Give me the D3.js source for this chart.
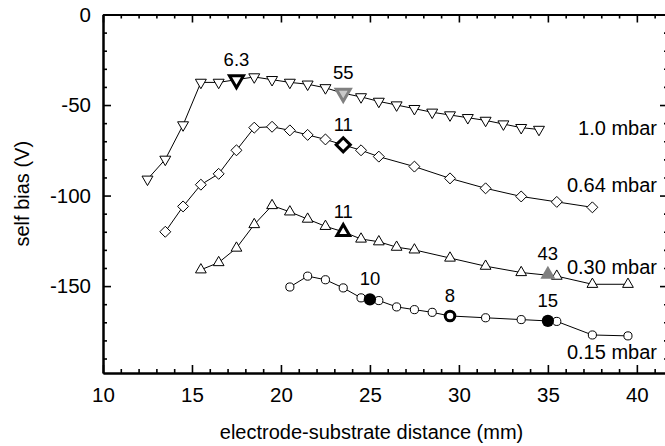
<!DOCTYPE html>
<html>
<head>
<meta charset="utf-8">
<script src="https://cdn.jsdelivr.net/npm/d3@7"></script>
<style>
  html, body { margin: 0; padding: 0; background: #fff; }
  svg { display: block; font-family: Arial, "Liberation Sans", Helvetica, sans-serif; }
</style>
</head>
<body>
<script>
// ---- data ---------------------------------------------------------------
// self bias (V) versus electrode-substrate distance (mm) at four pressures
const dist100 = [12.5, 13.5, 14.5, 15.5, 16.5, 17.5, 18.5, 19.5, 20.5, 21.5, 22.5, 23.5,
                 24.5, 25.5, 26.5, 27.5, 28.5, 29.5, 30.5, 31.5, 32.5, 33.5, 34.5];
const bias100 = [-91, -80, -61, -37.5, -37.5, -36, -34.5, -36, -37.5, -38.5, -40.5, -43.5,
                 -45.5, -48, -50, -52, -54, -55.5, -57, -58.5, -60.5, -62.5, -63.5];

const dist064 = [13.5, 14.5, 15.5, 16.5, 17.5, 18.5, 19.5, 20.5, 21.5, 22.5, 23.5, 24.5,
                 25.5, 27.5, 29.5, 31.5, 33.5, 35.5, 37.5];
const bias064 = [-120, -106, -94, -88, -75, -62.5, -62, -64, -66.5, -69, -72, -75,
                 -78.5, -84, -90.5, -96, -100.5, -103.5, -106.5];

const dist030 = [15.5, 16.5, 17.5, 18.5, 19.5, 20.5, 21.5, 22.5, 23.5, 24.5, 25.5, 26.5,
                 27.5, 29.5, 31.5, 33.5, 35.5, 37.5, 39.5];
const bias030 = [-141, -137, -129, -116, -105.5, -109, -113, -117, -120, -124, -125.5, -128.5,
                 -130, -134.5, -139, -142.5, -144.5, -149, -149];

const dist015 = [20.5, 21.5, 22.5, 23.5, 24.5, 25.5, 26.5, 27.5, 28.5, 29.5,
                 31.5, 33.5, 35.5, 37.5, 39.5];
const bias015 = [-150.5, -144.5, -146.5, -151, -156.5, -158, -161.5, -163, -164.5, -166.5,
                 -167.5, -168.5, -169.5, -177, -177.5];

const seriesNames = ["1.0 mbar", "0.64 mbar", "0.30 mbar", "0.15 mbar"];

// highlighted measurements with their annotation values
const markDist  = [17.5, 23.5, 23.5, 23.5, 35, 25, 29.5, 35];
const markBias  = [-36, -43.5, -72, -120, -143.5, -157.3, -166.5, -169.2];
const markText  = ["6.3", "55", "11", "11", "43", "10", "8", "15"];
const markKind  = ["downBold", "downGray", "diamondBold", "upBold", "upGray", "dotFilled", "dotBold", "dotFilled"];

// axis ticks
const xMajor = [10, 15, 20, 25, 30, 35, 40];
const yMajor = [0, -50, -100, -150];
const xTickLabels = ["10", "15", "20", "25", "30", "35", "40"];
const yTickLabels = ["0", "-50", "-100", "-150"];

// ---- layout -------------------------------------------------------------
const W = 665, H = 446;
const x = d3.scaleLinear().domain([10, 41.75]).range([103, 668]);
const y = d3.scaleLinear().domain([-198, 0]).range([373, 14.5]);

const svg = d3.select("body").append("svg").attr("width", W).attr("height", H);

const xMinor = d3.range(10, 42, 1).filter(v => !xMajor.includes(v));
const yMinor = d3.range(0, -200, -10).filter(v => !yMajor.includes(v));

const frameBottom = y.range()[0], frameTop = y.range()[1];
const frameLeft = x.range()[0], frameRight = x.range()[1];

function styleAxis(g) {
  g.select(".domain").attr("stroke", "#000").attr("stroke-width", 2);
  g.selectAll(".tick line").attr("stroke", "#000").attr("stroke-width", 1.6);
  g.selectAll(".tick text").attr("fill", "#000").attr("font-size", 20.5);
}

// minor ticks first (no labels), then majors with labels
svg.append("g").attr("transform", `translate(0,${frameBottom})`)
  .call(d3.axisBottom(x).tickValues(xMinor).tickSizeInner(-4).tickSizeOuter(0).tickFormat(""))
  .call(styleAxis);
svg.append("g").attr("transform", `translate(0,${frameBottom})`)
  .call(d3.axisBottom(x).tickValues(xMajor).tickSizeInner(-8).tickSizeOuter(0)
    .tickPadding(14).tickFormat((d, i) => xTickLabels[i]))
  .call(styleAxis);

svg.append("g").attr("transform", `translate(0,${frameTop})`)
  .call(d3.axisTop(x).tickValues(xMinor).tickSizeInner(-4).tickSizeOuter(0).tickFormat(""))
  .call(styleAxis);
svg.append("g").attr("transform", `translate(0,${frameTop})`)
  .call(d3.axisTop(x).tickValues(xMajor).tickSizeInner(-8).tickSizeOuter(0).tickFormat(""))
  .call(styleAxis);

svg.append("g").attr("transform", `translate(${frameLeft},0)`)
  .call(d3.axisLeft(y).tickValues(yMinor).tickSizeInner(-4).tickSizeOuter(0).tickFormat(""))
  .call(styleAxis);
svg.append("g").attr("transform", `translate(${frameLeft},0)`)
  .call(d3.axisLeft(y).tickValues(yMajor).tickSizeInner(-8).tickSizeOuter(0)
    .tickPadding(12).tickFormat((d, i) => yTickLabels[i]))
  .call(styleAxis);

svg.append("g").attr("transform", `translate(${frameRight},0)`)
  .call(d3.axisRight(y).tickValues(yMinor).tickSizeInner(-4).tickSizeOuter(0).tickFormat(""))
  .call(styleAxis);
svg.append("g").attr("transform", `translate(${frameRight},0)`)
  .call(d3.axisRight(y).tickValues(yMajor).tickSizeInner(-8).tickSizeOuter(0).tickFormat(""))
  .call(styleAxis);

// axis titles
svg.append("text")
  .attr("x", (frameLeft + 640) / 2).attr("y", 439)
  .attr("text-anchor", "middle").attr("font-size", 20)
  .text("electrode-substrate distance (mm)");
svg.append("text")
  .attr("transform", `translate(29,${(frameTop + frameBottom) / 2}) rotate(-90)`)
  .attr("text-anchor", "middle").attr("font-size", 20)
  .text("self bias (V)");

// ---- symbols ------------------------------------------------------------
const squareDiamond = {
  draw(ctx, size) {
    const h = Math.sqrt(size / 2);
    ctx.moveTo(0, -h); ctx.lineTo(h, 0); ctx.lineTo(0, h); ctx.lineTo(-h, 0); ctx.closePath();
  }
};
const triangleDown = {
  draw(ctx, size) {
    const w = Math.sqrt(size / (Math.sqrt(3) / 4));
    const hgt = w * Math.sqrt(3) / 2;
    ctx.moveTo(-w / 2, -hgt / 3); ctx.lineTo(w / 2, -hgt / 3); ctx.lineTo(0, 2 * hgt / 3); ctx.closePath();
  }
};

const series = [
  { dist: dist100, bias: bias100, type: triangleDown, size: 52 },
  { dist: dist064, bias: bias064, type: squareDiamond, size: 60 },
  { dist: dist030, bias: bias030, type: d3.symbolTriangle, size: 50 },
  { dist: dist015, bias: bias015, type: d3.symbolCircle, size: 52 }
];

const line = d3.line().x(d => x(d[0])).y(d => y(d[1]));

series.forEach(s => {
  const pts = s.dist.map((d, i) => [d, s.bias[i]]);
  svg.append("path").datum(pts)
    .attr("d", line).attr("fill", "none").attr("stroke", "#000").attr("stroke-width", 1);
  svg.append("g").selectAll("path").data(pts).join("path")
    .attr("transform", d => `translate(${x(d[0])},${y(d[1])})`)
    .attr("d", d3.symbol().type(s.type).size(s.size))
    .attr("fill", "#fff").attr("stroke", "#000").attr("stroke-width", 1);
});

// highlighted points
const kindStyle = {
  downBold:    { type: triangleDown,      size: 85,  fill: "#fff",    stroke: "#000",    sw: 3 },
  downGray:    { type: triangleDown,      size: 85,  fill: "#c8c8c8", stroke: "#808080", sw: 3 },
  diamondBold: { type: squareDiamond,     size: 100, fill: "#fff",    stroke: "#000",    sw: 3 },
  upBold:      { type: d3.symbolTriangle, size: 70,  fill: "#fff",    stroke: "#000",    sw: 3 },
  upGray:      { type: d3.symbolTriangle, size: 97,  fill: "#808080", stroke: "none",    sw: 0 },
  dotFilled:   { type: d3.symbolCircle,   size: 118, fill: "#000",    stroke: "none",    sw: 0 },
  dotBold:     { type: d3.symbolCircle,   size: 72,  fill: "#fff",    stroke: "#000",    sw: 3 }
};

const marks = markDist.map((d, i) => ({ d, b: markBias[i], t: markText[i], k: kindStyle[markKind[i]] }));

svg.append("g").selectAll("path").data(marks).join("path")
  .attr("transform", m => `translate(${x(m.d)},${y(m.b)})`)
  .attr("d", m => d3.symbol().type(m.k.type).size(m.k.size)())
  .attr("fill", m => m.k.fill).attr("stroke", m => m.k.stroke).attr("stroke-width", m => m.k.sw);

svg.append("g").selectAll("text").data(marks).join("text")
  .attr("x", m => x(m.d)).attr("y", m => y(m.b) - 14)
  .attr("text-anchor", "middle").attr("font-size", 18.5)
  .text(m => m.t);

// pressure labels, right-aligned near the right frame
const pressureLabelBias = [-62.7, -94.2, -139.5, -186.4];
svg.append("g").selectAll("text").data(seriesNames).join("text")
  .attr("x", 657).attr("y", (d, i) => y(pressureLabelBias[i]) + 7)
  .attr("text-anchor", "end").attr("font-size", 20)
  .text(d => d);
</script>
</body>
</html>
